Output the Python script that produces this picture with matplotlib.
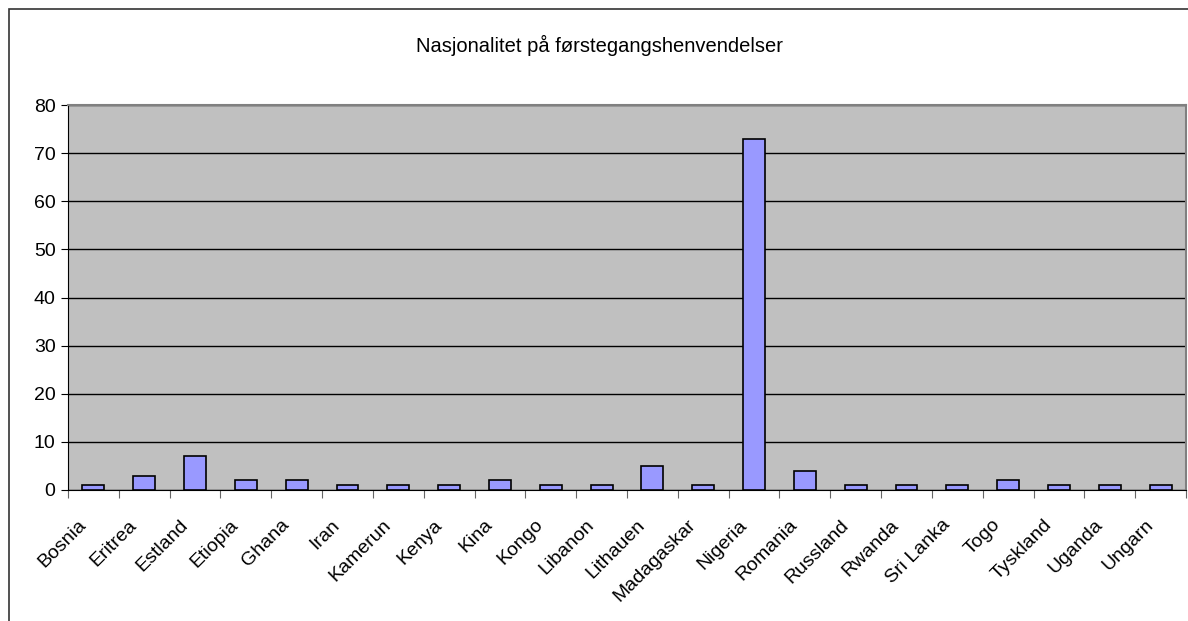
import numpy as np
import matplotlib.pyplot as plt
import matplotlib.transforms as mtransforms
from matplotlib.patches import Rectangle

plt.rcParams['font.family'] = ['Liberation Sans', 'DejaVu Sans']

countries = ["Bosnia", "Eritrea", "Estland", "Etiopia", "Ghana", "Iran", "Kamerun",
             "Kenya", "Kina", "Kongo", "Libanon", "Lithauen", "Madagaskar", "Nigeria",
             "Romania", "Russland", "Rwanda", "Sri Lanka", "Togo", "Tyskland",
             "Uganda", "Ungarn"]
counts = [1, 3, 7, 2, 2, 1, 1, 1, 2, 1, 1, 5, 1, 73, 4, 1, 1, 1, 2, 1, 1, 1]
title = "Nasjonalitet på førstegangshenvendelser"

fig = plt.figure(figsize=(11.88, 6.21), dpi=100)
# outer chart border (only left/top visible in the original)
fig.patches.append(Rectangle((9 / 1188, -0.05), 1.2, 1 - 9 / 621 + 0.05,
                             transform=fig.transFigure, fill=False,
                             edgecolor="#333333", linewidth=1.2))

ax = fig.add_axes([68 / 1188, 1 - 490 / 621, 1118 / 1188, 385 / 621])
ax.set_facecolor("#C0C0C0")
x = np.arange(len(countries))
ax.bar(x, counts, width=0.43, color="#9999FF", edgecolor="black", linewidth=1.2, zorder=3)

ax.set_xlim(-0.5, len(countries) - 0.5)
ax.set_ylim(0, 80)
ax.set_yticks(np.arange(0, 81, 10))
ax.yaxis.grid(True, color="black", linewidth=1)
ax.set_axisbelow(True)
ax.tick_params(axis="y", direction="out", length=5, labelsize=14, pad=4)

ax.set_xticks(np.arange(-0.5, len(countries), 1))
ax.set_xticklabels([])
ax.set_xticks(x, minor=True)
ax.set_xticklabels(countries, minor=True, rotation=45, ha="right", va="top",
                   rotation_mode="anchor", fontsize=14)
ax.tick_params(axis="x", which="major", direction="out", length=6, color="#666666")
ax.tick_params(axis="x", which="minor", length=0, pad=19)
shift = mtransforms.ScaledTranslation(-16 / 100, 0, fig.dpi_scale_trans)
for lbl in ax.get_xticklabels(minor=True):
    lbl.set_transform(lbl.get_transform() + shift)

for s in ["left", "bottom"]:
    ax.spines[s].set_color("black")
for s in ["top", "right"]:
    ax.spines[s].set_color("#808080")
    ax.spines[s].set_linewidth(1.5)

fig.text(0.505, 1 - 45 / 621, title, ha="center", va="center", fontsize=14.5)

fig.savefig("out.png", dpi=100)
